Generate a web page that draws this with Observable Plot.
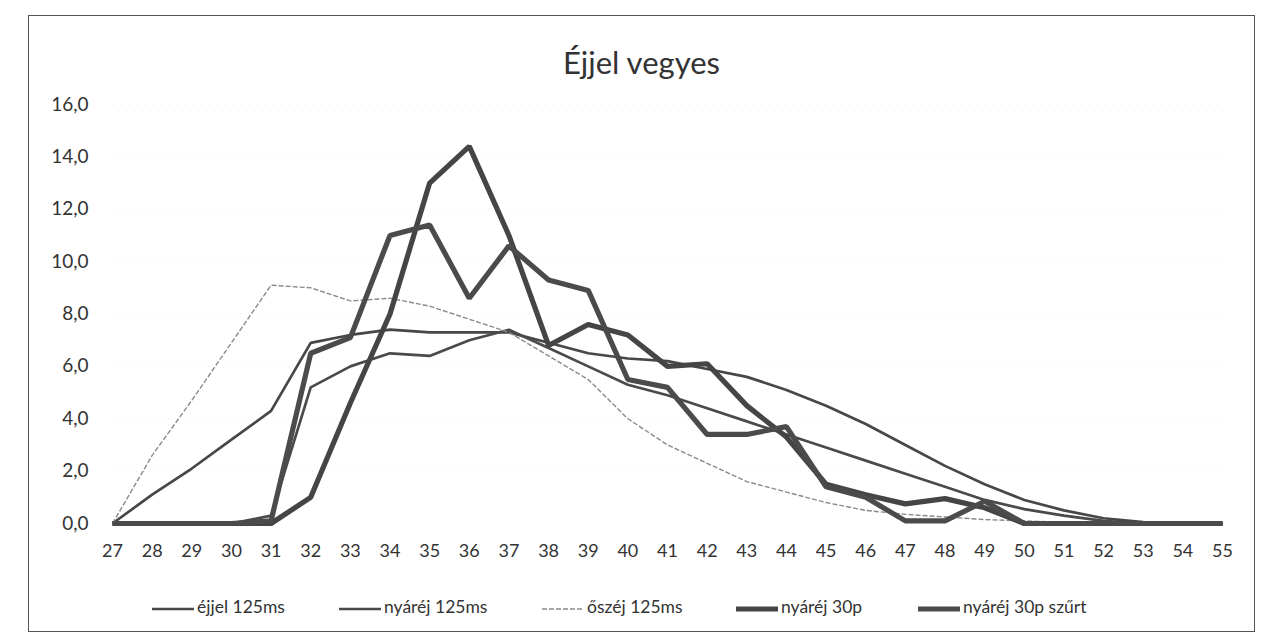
<!DOCTYPE html>
<html><head><meta charset="utf-8">
<script src="https://cdn.jsdelivr.net/npm/d3@7"></script>
<script src="https://cdn.jsdelivr.net/npm/@observablehq/plot@0.6"></script>
<style>
body{margin:0;background:#fff;font-family:Lato,"Open Sans",sans-serif;}
#frame{position:relative;width:1283px;height:638px;overflow:hidden;background:#fff}
#border{position:absolute;left:28px;top:15px;width:1227px;height:617px;border:1.5px solid #555;box-sizing:border-box}
#title{position:absolute;left:0;top:0;width:1283px;height:80px;}
#title div{position:absolute;left:0;width:1283px;top:43px;text-align:center;font-size:31px;line-height:38px;color:#333}
#chart{position:absolute;left:0;top:80px}
#legend{position:absolute;top:594px;left:0;width:1283px;height:26px;font-size:17.5px;color:#333}
.item{position:absolute;top:0;height:26px;line-height:26px;white-space:nowrap}
.item svg{vertical-align:middle;margin-right:3px}
</style></head>
<body>
<div id="frame">
  <div id="border"></div>
  <div id="title"><div>Éjjel vegyes</div></div>
  <div id="chart"></div>
  <div id="legend"></div>
</div>
<script>
// categories (x axis)
const categories = [27,28,29,30,31,32,33,34,35,36,37,38,39,40,41,42,43,44,45,46,47,48,49,50,51,52,53,54,55];
// y axis ticks
const yTicks = [0,2,4,6,8,10,12,14,16];
// series names
const seriesNames = ["éjjel 125ms","nyáréj 125ms","őszéj 125ms","nyáréj 30p","nyáréj 30p szűrt"];
// series values
const ejjel125 =      [0,1.1,2.1,3.2,4.3,6.9,7.2,7.4,7.3,7.3,7.3,6.9,6.5,6.3,6.2,5.9,5.6,5.1,4.5,3.8,3.0,2.2,1.5,0.9,0.5,0.2,0.05,0,0];
const nyarej125 =     [0,0,0,0,0.3,5.2,6.0,6.5,6.4,7.0,7.4,6.7,6.0,5.3,4.9,4.4,3.9,3.4,2.9,2.4,1.9,1.4,0.9,0.55,0.3,0.1,0,0,0];
const oszej125 =      [0,2.6,4.7,6.9,9.1,9.0,8.5,8.6,8.3,7.8,7.3,6.4,5.5,4.0,3.0,2.3,1.6,1.2,0.8,0.5,0.35,0.25,0.15,0.1,0.05,0.02,0,0,0];
const nyarej30p =     [0,0,0,0,0,1.0,4.6,8.0,13.0,14.4,11.0,6.8,7.6,7.2,6.0,6.1,4.5,3.3,1.5,1.1,0.75,0.95,0.6,0,0,0,0,0,0];
const nyarej30pSzurt =[0,0,0,0,0.1,6.5,7.1,11.0,11.4,8.6,10.6,9.3,8.9,5.5,5.2,3.4,3.4,3.7,1.4,1.0,0.1,0.1,0.85,0,0,0,0,0,0];

const seriesValues = [ejjel125, nyarej125, oszej125, nyarej30p, nyarej30pSzurt];
const seriesStyle = [
  {stroke:"#474747", width:2.7, dash:null},
  {stroke:"#4a4a4a", width:2.7, dash:null},
  {stroke:"#8a8a8a", width:1.4, dash:"5,2"},
  {stroke:"#454545", width:5.2, dash:null},
  {stroke:"#4b4b4b", width:5.2, dash:null}
];

const rows = seriesNames.flatMap((name,i)=>categories.map((c,j)=>({name, x:c, y:seriesValues[i][j]})));

const chart = Plot.plot({
  width:1283, height:500,
  marginLeft:112, marginRight:61, marginTop:24, marginBottom:57,
  x:{type:"linear", domain:[27,55]},
  y:{domain:[0,16]},
  style:{fontFamily:"Lato, sans-serif", fontSize:"18px", color:"#333", background:"transparent"},
  marks:[
    Plot.gridY(yTicks.filter(v=>v>0), {stroke:"#aaa", strokeOpacity:0.25, strokeDasharray:"1,7"}),
    Plot.axisX({ticks:categories, tickSize:0, tickPadding:21, tickFormat:d=>String(d), label:null, fontSize:18}),
    Plot.axisY({ticks:yTicks, tickSize:0, tickPadding:24, tickFormat:d=>d.toFixed(1).replace(".",","), label:null, fontSize:19}),
    ...seriesNames.map((name,i)=>Plot.line(rows.filter(r=>r.name===name), {
      x:"x", y:"y", stroke:seriesStyle[i].stroke, strokeWidth:seriesStyle[i].width,
      strokeDasharray:seriesStyle[i].dash, strokeLinejoin:"miter", strokeLinecap:"butt"
    }))
  ]
});
document.getElementById("chart").appendChild(chart);

// legend
const legendLeft = [152, 339, 542, 736, 918];
const legend = document.getElementById("legend");
seriesNames.forEach((name,i)=>{
  const s = seriesStyle[i];
  const el = document.createElement("div");
  el.className = "item";
  el.style.left = legendLeft[i] + "px";
  el.innerHTML = `<svg width="42" height="10"><line x1="0" y1="5" x2="42" y2="5" stroke="${s.stroke}" stroke-width="${s.width}" ${s.dash?`stroke-dasharray="${s.dash}"`:""}/></svg><span>${name}</span>`;
  legend.appendChild(el);
});
</script>
</body></html>
